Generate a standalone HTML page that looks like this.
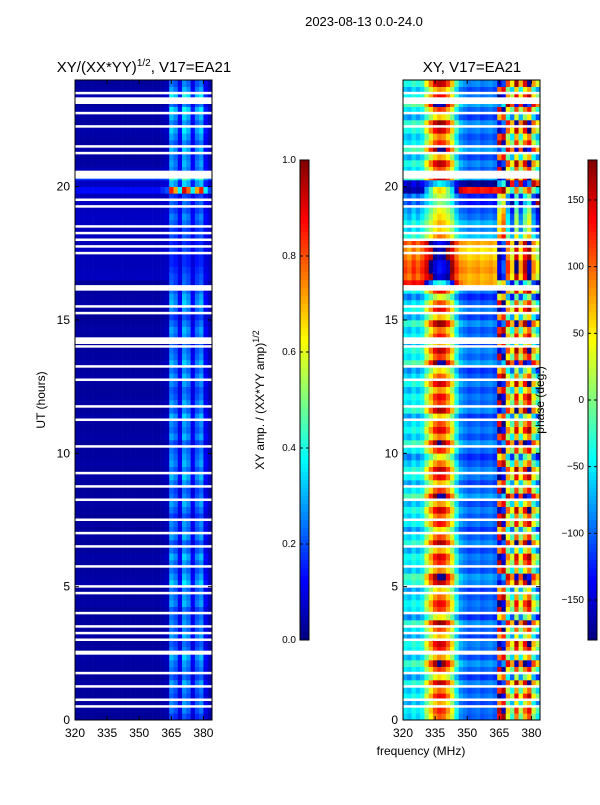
<!DOCTYPE html>
<html><head><meta charset="utf-8"><style>
body{margin:0;background:#fff;font-family:"Liberation Sans","DejaVu Sans",sans-serif;}
svg text{font-family:"Liberation Sans","DejaVu Sans",sans-serif;}
</style></head><body>
<svg id="fig" width="600" height="800" xmlns="http://www.w3.org/2000/svg">
<rect width="600" height="800" fill="#fff"/>
<text x="364" y="26" font-size="13" text-anchor="middle">2023-08-13 0.0-24.0</text>
<text x="144" y="72" font-size="15" text-anchor="middle">XY/(XX*YY)<tspan font-size="10" dy="-6">1/2</tspan><tspan dy="6">, V17=EA21</tspan></text>
<text x="472" y="72" font-size="15" text-anchor="middle">XY, V17=EA21</text>
<text x="421" y="755" font-size="12" text-anchor="middle">frequency (MHz)</text>
<text transform="translate(45,400) rotate(-90)" font-size="12" text-anchor="middle">UT (hours)</text>
<text transform="translate(264,400) rotate(-90)" font-size="12" text-anchor="middle">XY amp. / (XX*YY amp)<tspan font-size="9" dy="-5">1/2</tspan></text>
<g id="ampPanel"></g>
<g id="phPanel"></g>
<g id="axes"></g>
<text transform="translate(544,400) rotate(-90)" font-size="12" text-anchor="middle">phase (deg.)</text>
</svg>
<script>
const channels = [320,322,324,326,328,330,332,334,336,338,340,342,344,346,348,350,352,354,356,358,360,362,364,366,368,370,372,374,376,378,380,382];
const ampColProfile = [0.03,0.03,0.03,0.03,0.03,0.03,0.03,0.03,0.03,0.03,0.03,0.03,0.03,0.03,0.03,0.03,0.03,0.03,0.03,0.03,0.04,0.05,0.24,0.2,0.1,0.26,0.22,0.1,0.2,0.24,0.1,0.05];
const phaseColBase = [-60,-70,-50,-65,-50,0,40,80,100,90,60,20,-50,-90,-100,-110,-105,-100,-110,-105,-100,-110,120,160,20,-40,80,-20,60,100,-10,-60];
const phaseColWeight = [0.3,0.35,0.3,0.35,0.3,0.5,0.6,0.7,0.7,0.7,0.6,0.5,0.35,0.25,0.2,0.2,0.2,0.2,0.2,0.2,0.2,0.2,1,1,1,1,1,1,1,1,1,1];
const hours = [];
for (let i=0;i<96;i++) hours.push(i*0.25);
const ampRowGain = [0.8,1,1.1,0.9,1,1.2,0.9,1,1.1,1.3,1,0.9,1.2,1,1.1,1,0.9,1.2,1.1,1,1.4,1.2,1,1.1,1.3,1,0.9,1.2,1,1.1,0.8,1,1.2,1,0.9,1.1,1.3,1,1.2,1.1,1,0.9,1.2,1,1.1,1.3,1,1.2,1,0.9,1.1,1.2,1,1.3,1.1,1,0.9,1.1,1.2,1,0.8,1.1,1.3,1.2,1,0.9,0.7,0.6,0.5,0.5,0.6,0.5,0.7,0.6,0.8,0.9,0.7,0.8,0.6,3.4,1.2,1.3,1,1.2,1.1,1.3,1,1.2,1.4,1.1,1.3,1.5,1,1.6,1.2,1];
const ampRowBase = [0,0,0,0,0,0,0,0,0,0,0,0,0,0,0,0,0,0,0,0,0,0,0,0,0,0,0,0,0,0,0,0,0,0,0,0,0,0,0,0,0,0,0,0,0,0,0,0,0,0,0,0,0,0,0,0,0,0,0,0,0,0,0,0,0,0,0.04,0.04,0.04,0.04,0.05,0.04,0.04,0.04,0.04,0.04,0.04,0.04,0.04,0.03,0.03,0.14,0.02,0,0,0,0,0,0,0,0,0,0,0,0,0];
const phaseRowShift = [0,0,0,0,0,0,0,0,0,0,0,0,0,0,0,0,0,0,0,0,0,0,0,0,0,0,0,0,0,0,0,0,0,0,0,0,0,0,0,0,0,0,0,0,0,0,0,0,0,0,0,0,0,0,0,0,0,0,0,0,0,0,0,0,0,160,200,210,200,190,180,200,60,40,60,30,20,0,0,200,-40,20,0,0,0,0,0,0,0,0,0,0,0,0,0,0];
const phaseRowVar = [10,40,-30,60,0,90,-60,30,120,-20,50,80,-40,20,110,-70,30,60,0,-50,90,130,-10,40,70,-30,100,20,-60,50,10,80,-20,140,30,-40,60,90,0,-80,40,120,-10,70,20,-50,100,30,60,-20,80,10,-60,140,30,90,-30,50,0,110,-40,70,20,-90,60,100,-120,-110,-100,-120,-110,-100,-90,-110,-120,-100,-110,-130,-100,170,-150,60,20,90,-30,130,40,-10,80,110,-50,30,150,60,-20,90];
const flaggedHours = [0.5,0.75,1.25,1.75,2.5,3.0,3.25,3.5,4.0,4.75,5.0,5.75,6.5,7.0,7.5,8.25,8.75,9.25,10.25,11.25,11.75,12.75,13.25,14.0,14.25,15.25,15.5,16.25,17.5,17.75,18.0,18.25,18.5,19.25,19.5,20.5,21.25,21.5,22.25,22.75,23.25,23.5];
const flaggedBands = [[2.45,2.6],[14.1,14.35],[16.1,16.3],[20.3,20.6],[23.1,23.35]];
const ampTicks = [0,0.2,0.4,0.6,0.8,1.0];
const phaseTicks = [-150,-100,-50,0,50,100,150];
const xTicks = [320,335,350,365,380];
const yTicks = [0,5,10,15,20];

const NS="http://www.w3.org/2000/svg";
const Y0=720, Y1=80, fMin=320, fMax=384;
const yS=h=>Y0-(h/24)*(Y0-Y1);
const jet=v=>{v=Math.max(0,Math.min(1,v));const f=x=>Math.round(255*Math.max(0,Math.min(1,1.5-Math.abs(4*v-x))));return `rgb(${f(3)},${f(2)},${f(1)})`;};
function mk(tag,attrs,parent){const e=document.createElementNS(NS,tag);for(const k in attrs)e.setAttribute(k,attrs[k]);parent.appendChild(e);return e;}
function panel(gid,x0,valFn){
  const g=document.getElementById(gid);const w=137;const xS=f=>x0+(f-fMin)/(fMax-fMin)*w;
  hours.forEach((h,r)=>{
    channels.forEach((c,ci)=>{
      const el=mk('rect',{x:xS(c).toFixed(2),y:yS(h+0.25).toFixed(2),width:(xS(c+2)-xS(c)+0.3).toFixed(2),height:(yS(h)-yS(h+0.25)+0.3).toFixed(2),fill:jet(valFn(r,ci))},g);
      
      
    });
  });
  flaggedHours.forEach(fh=>{
    const el=mk('rect',{x:x0,y:(yS(fh)-1.5).toFixed(2),width:w,height:2.5,fill:'#fff'},g);
    
    
  });
  flaggedBands.forEach(b=>{
    const el=mk('rect',{x:x0,y:yS(b[1]).toFixed(2),width:w,height:(yS(b[0])-yS(b[1])).toFixed(2),fill:'#fff'},g);
    
    
  });
  const ax=document.getElementById('axes');
  const fr=mk('rect',{x:x0,y:Y1,width:w,height:Y0-Y1,fill:'none',stroke:'#000','stroke-width':1},ax);
  
  xTicks.forEach(t=>{const x=xS(t);mk('line',{x1:x,x2:x,y1:Y0,y2:Y0-4,stroke:'#000'},ax);mk('line',{x1:x,x2:x,y1:Y1,y2:Y1+4,stroke:'#000'},ax);
    const tx=mk('text',{x:x,y:Y0+17,'font-size':12,'text-anchor':'middle'},ax);tx.textContent=t;
    });
  yTicks.forEach(t=>{const y=yS(t);mk('line',{x1:x0,x2:x0+4,y1:y,y2:y,stroke:'#000'},ax);mk('line',{x1:x0+w,x2:x0+w-4,y1:y,y2:y,stroke:'#000'},ax);
    const tx=mk('text',{x:x0-5,y:y+4,'font-size':12,'text-anchor':'end'},ax);tx.textContent=t;
    });
}
panel('ampPanel',75,(r,c)=>ampRowBase[r]+ampColProfile[c]*ampRowGain[r]);
panel('phPanel',403,(r,c)=>{let p=phaseColBase[c]+phaseRowShift[r]+phaseRowVar[r]*phaseColWeight[c];p=((p+180)%360+360)%360-180;return (p+180)/360;});

function colorbar(x,ticks,lo,hi,fmt,name){
  const ax=document.getElementById('axes');const top=160,bot=640,w=9;
  const g=mk('g',{},ax);
  for(let i=0;i<120;i++){mk('rect',{x:x,y:top+i*4,width:w,height:4.3,fill:jet(1-(i+0.5)/120)},g);}
  mk('rect',{x:x,y:top,width:w,height:bot-top,fill:'none',stroke:'#000'},g);
  ticks.forEach(t=>{const y=bot-(t-lo)/(hi-lo)*(bot-top);mk('line',{x1:x,x2:x+3,y1:y,y2:y,stroke:'#000'},g);mk('line',{x1:x+w,x2:x+w-3,y1:y,y2:y,stroke:'#000'},g);
    const tx=mk('text',{x:x-4,y:y+3,'font-size':10,'text-anchor':'end'},g);tx.textContent=fmt(t);
    });
}
colorbar(300,ampTicks,0,1,t=>t.toFixed(1),'amp-colorbar');
colorbar(588,phaseTicks,-180,180,t=>t<0?'\u2212'+(-t):''+t,'phase-colorbar');
</script>
</body></html>
